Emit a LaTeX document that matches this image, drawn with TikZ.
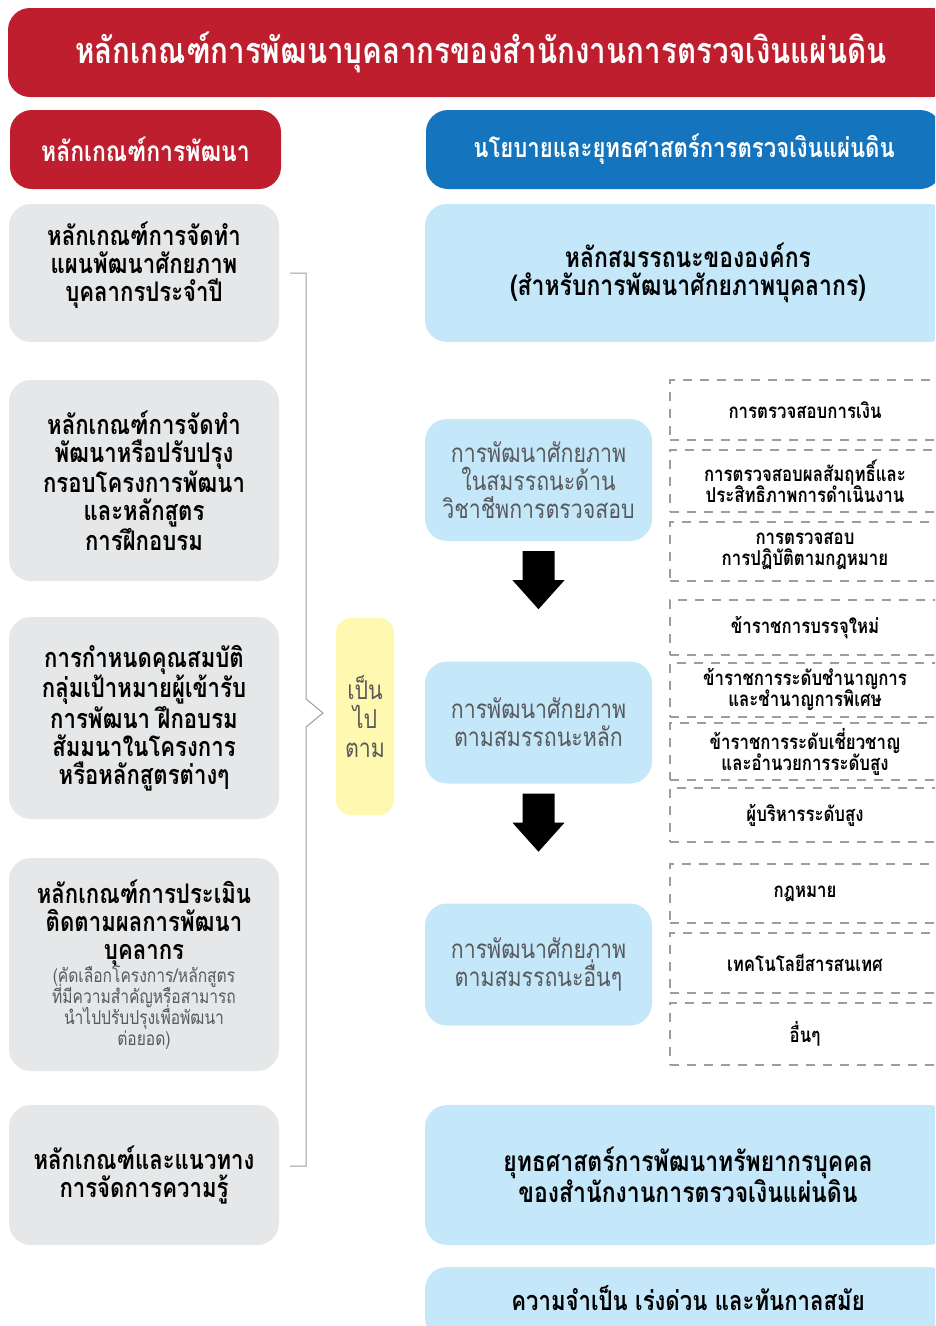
\documentclass[tikz,border=0pt]{standalone}
\usepackage{fontspec}
\setmainfont[Script=Thai,FakeStretch=0.82]{Loma}
\usetikzlibrary{positioning}
\usetikzlibrary{calc}

\definecolor{auditred}{HTML}{BE1E2D}
\definecolor{auditblue}{HTML}{1474BD}
\definecolor{greyfill}{HTML}{E6E7E8}
\definecolor{skyfill}{HTML}{C4E8FA}
\definecolor{notefill}{HTML}{FFF8B0}
\definecolor{softtext}{HTML}{58595B}
\definecolor{rulegrey}{HTML}{9D9D9D}

\newcommand{\notetext}{\mdseries\color{softtext}\fontsize{19}{21}\selectfont}

\begin{document}
\begin{tikzpicture}
	[x=1pt,y=-1pt,
	box/.style={rectangle,rounded corners=22pt,align=center,inner sep=0pt},
	titlebox/.style={box,fill=auditred,text=white,font=\fontsize{36}{40}\selectfont\bfseries},
	redhead/.style={box,fill=auditred,text=white,font=\fontsize{28}{30}\selectfont\bfseries},
	bluehead/.style={box,fill=auditblue,text=white,font=\fontsize{27}{30}\selectfont\bfseries},
	rule/.style={box,fill=greyfill,minimum width=270pt,font=\fontsize{27}{28}\selectfont\bfseries},
	policy/.style={box,fill=skyfill,minimum width=526pt,font=\fontsize{28}{28}\selectfont\bfseries},
	stage/.style={box,fill=skyfill,minimum width=227pt,minimum height=122pt,text=softtext,font=\fontsize{26}{28}\selectfont},
	topic/.style={rectangle,draw=rulegrey,line width=1.2pt,dash pattern=on 9pt off 8pt,minimum width=270pt,align=center,font=\fontsize{20.5}{21}\selectfont\bfseries},
	follow/.style={box,rounded corners=15pt,fill=notefill,minimum width=58pt,minimum height=197pt,text=softtext,font=\fontsize{26}{29}\selectfont},
	bracket/.style={draw=rulegrey,line width=1pt}]

	\clip (0,0) rectangle (935,1326);

	% Draw the headers
	\draw node at (481,52.5) [titlebox,minimum width=946pt,minimum height=89pt](title){หลักเกณฑ์การพัฒนาบุคลากรของสำนักงานการตรวจเงินแผ่นดิน}
		node at (145.5,149.5) [redhead,minimum width=271pt,minimum height=79pt](rulehead){หลักเกณฑ์การพัฒนา}
		node at (684,149.5) [bluehead,minimum width=516pt,minimum height=79pt](policyhead){นโยบายและยุทธศาสตร์การตรวจเงินแผ่นดิน};

	% Draw the left column
	\draw node at (144,273) [rule,minimum height=138pt](rule1){หลักเกณฑ์การจัดทำ\\แผนพัฒนาศักยภาพ\\บุคลากรประจำปี\\[-6pt]}
		node at (144,480.5) [rule,minimum height=201pt](rule2){หลักเกณฑ์การจัดทำ\\พัฒนาหรือปรับปรุง\\กรอบโครงการพัฒนา\\และหลักสูตร\\การฝึกอบรม}
		node at (144,718) [rule,minimum height=202pt](rule3){การกำหนดคุณสมบัติ\\กลุ่มเป้าหมายผู้เข้ารับ\\การพัฒนา ฝึกอบรม\\สัมมนาในโครงการ\\หรือหลักสูตรต่างๆ}
		node at (144,964.5) [rule,minimum height=213pt](rule4){หลักเกณฑ์การประเมิน\\ติดตามผลการพัฒนา\\บุคลากร\\[-5pt]\notetext (คัดเลือกโครงการ/หลักสูตร\\[-7pt]\notetext ที่มีความสำคัญหรือสามารถ\\[-7pt]\notetext นำไปปรับปรุงเพื่อพัฒนา\\[-7pt]\notetext ต่อยอด)}
		node at (144,1175) [rule,minimum height=140pt](rule5){หลักเกณฑ์และแนวทาง\\การจัดการความรู้};

	% Draw the bracket and the link word
	\draw[bracket] ($(rule1.east)+(11,0)$) -- ++(16,0) -- (306,699) -- (323,713) -- (306,727)
		-- (306,1166) -- ($(rule5.east)+(11,-9)$);
	\draw node at (365,716.5) [follow](follow){เป็น\\ไป\\ตาม};

	% Draw the right column
	\draw node at (688,273) [policy,minimum height=138pt](core){หลักสมรรถนะขององค์กร\\(สำหรับการพัฒนาศักยภาพบุคลากร)}
		node at (538.5,480) [stage](stage1){การพัฒนาศักยภาพ\\ในสมรรถนะด้าน\\วิชาชีพการตรวจสอบ}
		node at (538.5,722.5) [stage](stage2){การพัฒนาศักยภาพ\\ตามสมรรถนะหลัก}
		node at (538.5,964.5) [stage](stage3){การพัฒนาศักยภาพ\\ตามสมรรถนะอื่นๆ}
		node at (688,1175) [policy,minimum height=140pt](strategy){ยุทธศาสตร์การพัฒนาทรัพยากรบุคคล\\ของสำนักงานการตรวจเงินแผ่นดิน};
	\fill[skyfill,rounded corners=22pt] (425,1267) -- (951,1267) -- (951,1340) -- (425,1340) -- cycle;
	\node at (688,1298) [font=\fontsize{27}{28}\selectfont\bfseries](urgency){ความจำเป็น เร่งด่วน และทันกาลสมัย};

	% Draw the block arrows between the stages
	\foreach \from in {stage1,stage2}
		\fill ($(\from.south)+(-16,10)$) -- ++(32,0) -- ++(0,29) -- ++(10,0) -- ($(\from.south)+(0,68)$)
			-- ++(-26,-29) -- ++(10,0) -- cycle;

	% Draw the topic boxes
	\draw node at (805,410) [topic,minimum height=60pt](audit1){การตรวจสอบการเงิน}
		node at (805,481) [topic,minimum height=62pt](audit2){การตรวจสอบผลสัมฤทธิ์และ\\ประสิทธิภาพการดำเนินงาน}
		node at (805,551.5) [topic,minimum height=59pt](audit3){การตรวจสอบ\\การปฏิบัติตามกฎหมาย}
		node at (805,627.5) [topic,minimum height=55pt](staff1){ข้าราชการบรรจุใหม่}
		node at (805,690) [topic,minimum height=54pt](staff2){ข้าราชการระดับชำนาญการ\\และชำนาญการพิเศษ}
		node at (805,751.5) [topic,minimum height=57pt](staff3){ข้าราชการระดับเชี่ยวชาญ\\และอำนวยการระดับสูง}
		node at (805,815) [topic,minimum height=54pt](staff4){ผู้บริหารระดับสูง}
		node at (805,893.5) [topic,minimum height=59pt](other1){กฎหมาย}
		node at (805,963) [topic,minimum height=60pt](other2){เทคโนโลยีสารสนเทศ}
		node at (805,1034) [topic,minimum height=62pt](other3){อื่นๆ};
\end{tikzpicture}
\end{document}
